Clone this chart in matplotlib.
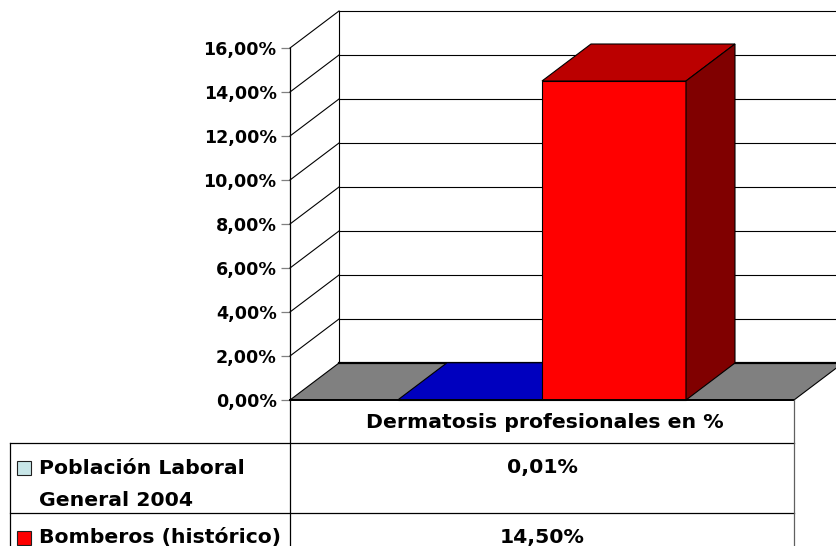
import matplotlib
matplotlib.use("Agg")
from matplotlib import pyplot
from matplotlib.lines import Line2D
from matplotlib.patches import Polygon, Rectangle

W, H = 836, 546
FONT = "DejaVu Sans"
TICK_SIZE = 12.6
TABLE_SIZE = 14.7

# Dermatosis profesionales (%)
category = "Dermatosis profesionales en %"
series_lines = [["Población Laboral", "General 2004"], ["Bomberos (histórico)"]]
values = [0.01, 14.50]
value_labels = ["0,01%", "14,50%"]
yticks = [0, 2, 4, 6, 8, 10, 12, 14, 16]
ytick_labels = ["0,00%", "2,00%", "4,00%", "6,00%", "8,00%",
                "10,00%", "12,00%", "14,00%", "16,00%"]

front_colors = ["#0000FF", "#FF0000"]
top_colors = ["#0000BF", "#BB0000"]
side_colors = ["#000080", "#800000"]
key_colors = ["#C8E6E8", "#FF0000"]

BAR_W = 0.2857
DEPTH_PX = (49, 37)

fig = pyplot.figure(figsize=(W / 100, H / 100), dpi=100)
ax = fig.add_axes([290 / W, 146 / H, 504 / W, 352 / H])
ax.set_xlim(0, 1)
ax.set_ylim(0, 16)
ax.patch.set_visible(False)
for side in ["top", "right", "bottom"]:
    ax.spines[side].set_visible(False)
ax.spines["left"].set_linewidth(0.9)
ax.spines["left"].set_zorder(6)
ax.set_xticks([])
ax.set_yticks(yticks, ytick_labels)
ax.tick_params(axis="y", length=6.5, width=0.9, color="#808080", pad=3.2)
for lab in ax.get_yticklabels():
    lab.set_fontfamily(FONT)
    lab.set_fontweight("bold")
    lab.set_fontsize(TICK_SIZE)

# depth vector of the 3-D box, in data units
x0, y0 = ax.transData.transform((0, 0))
ddx, ddy = ax.transData.inverted().transform((x0 + DEPTH_PX[0], y0 + DEPTH_PX[1]))

LW = 0.8
top = yticks[-1]

# back wall
ax.add_patch(Rectangle((ddx, ddy), 1, top, facecolor="white", edgecolor="none",
                       clip_on=False, zorder=1))
for v in yticks[1:]:
    ax.plot([ddx, 1 + ddx], [v + ddy] * 2, color="black", lw=LW, clip_on=False, zorder=2)
ax.plot([ddx, ddx], [ddy, top + ddy], color="black", lw=LW, clip_on=False, zorder=2)

# side wall gridlines
for v in yticks[1:]:
    ax.plot([0, ddx], [v, v + ddy], color="black", lw=LW, clip_on=False, zorder=2)

# floor
ax.add_patch(Polygon([(0, 0), (1, 0), (1 + ddx, ddy), (ddx, ddy)], closed=True,
                     facecolor="#808080", edgecolor="black", lw=LW,
                     clip_on=False, zorder=3))
ax.plot([ddx, 1 + ddx], [ddy, ddy], color="black", lw=1.6, clip_on=False, zorder=3)
ax.plot([0, 1], [0, 0], color="black", lw=1.4, clip_on=False, zorder=6)

# 3-D columns
start = 0.5 - BAR_W * len(values) / 2
for i, v in enumerate(values):
    a = start + i * BAR_W
    b = a + BAR_W
    z = 4 + i * 0.1
    kw = dict(edgecolor="black", lw=LW, clip_on=False, zorder=z)
    ax.add_patch(Polygon([(a, 0), (b, 0), (b, v), (a, v)], facecolor=front_colors[i], **kw))
    ax.add_patch(Polygon([(a, v), (b, v), (b + ddx, v + ddy), (a + ddx, v + ddy)],
                         facecolor=top_colors[i], **kw))
    ax.add_patch(Polygon([(b, 0), (b + ddx, ddy), (b + ddx, v + ddy), (b, v)],
                         facecolor=side_colors[i], **kw))


# data table below the plot, laid out in figure pixels
def fx(x):
    return x / W


def fy(y):
    return 1 - y / H


def hline(y, xa, xb, color="black"):
    fig.add_artist(Line2D([fx(xa), fx(xb)], [fy(y), fy(y)], color=color, lw=0.9))


def vline(x, ya, yb, color="black"):
    fig.add_artist(Line2D([fx(x), fx(x)], [fy(ya), fy(yb)], color=color, lw=0.9))


row_tops = [443, 513]
for y in row_tops:
    hline(y, 10, 794)
vline(10, 443, H)
vline(290, 400, H)
vline(794, 400, H, color="#606060")

text_kw = dict(fontfamily=FONT, fontweight="bold", fontsize=TABLE_SIZE, color="black")
fig.text(fx(545), fy(422), category, ha="center", va="center", **text_kw)
for i, lines in enumerate(series_lines):
    y = row_tops[i] + 25
    fig.add_artist(Rectangle((fx(17), fy(y + 7)), 14 / W, 14 / H,
                             facecolor=key_colors[i], edgecolor="#202020", lw=0.8))
    for k, line in enumerate(lines):
        fig.text(fx(39), fy(y + 32 * k), line, ha="left", va="center", **text_kw)
    fig.text(fx(542), fy(y - 1), value_labels[i], ha="center", va="center", **text_kw)

fig.savefig("out.png", dpi=100)
